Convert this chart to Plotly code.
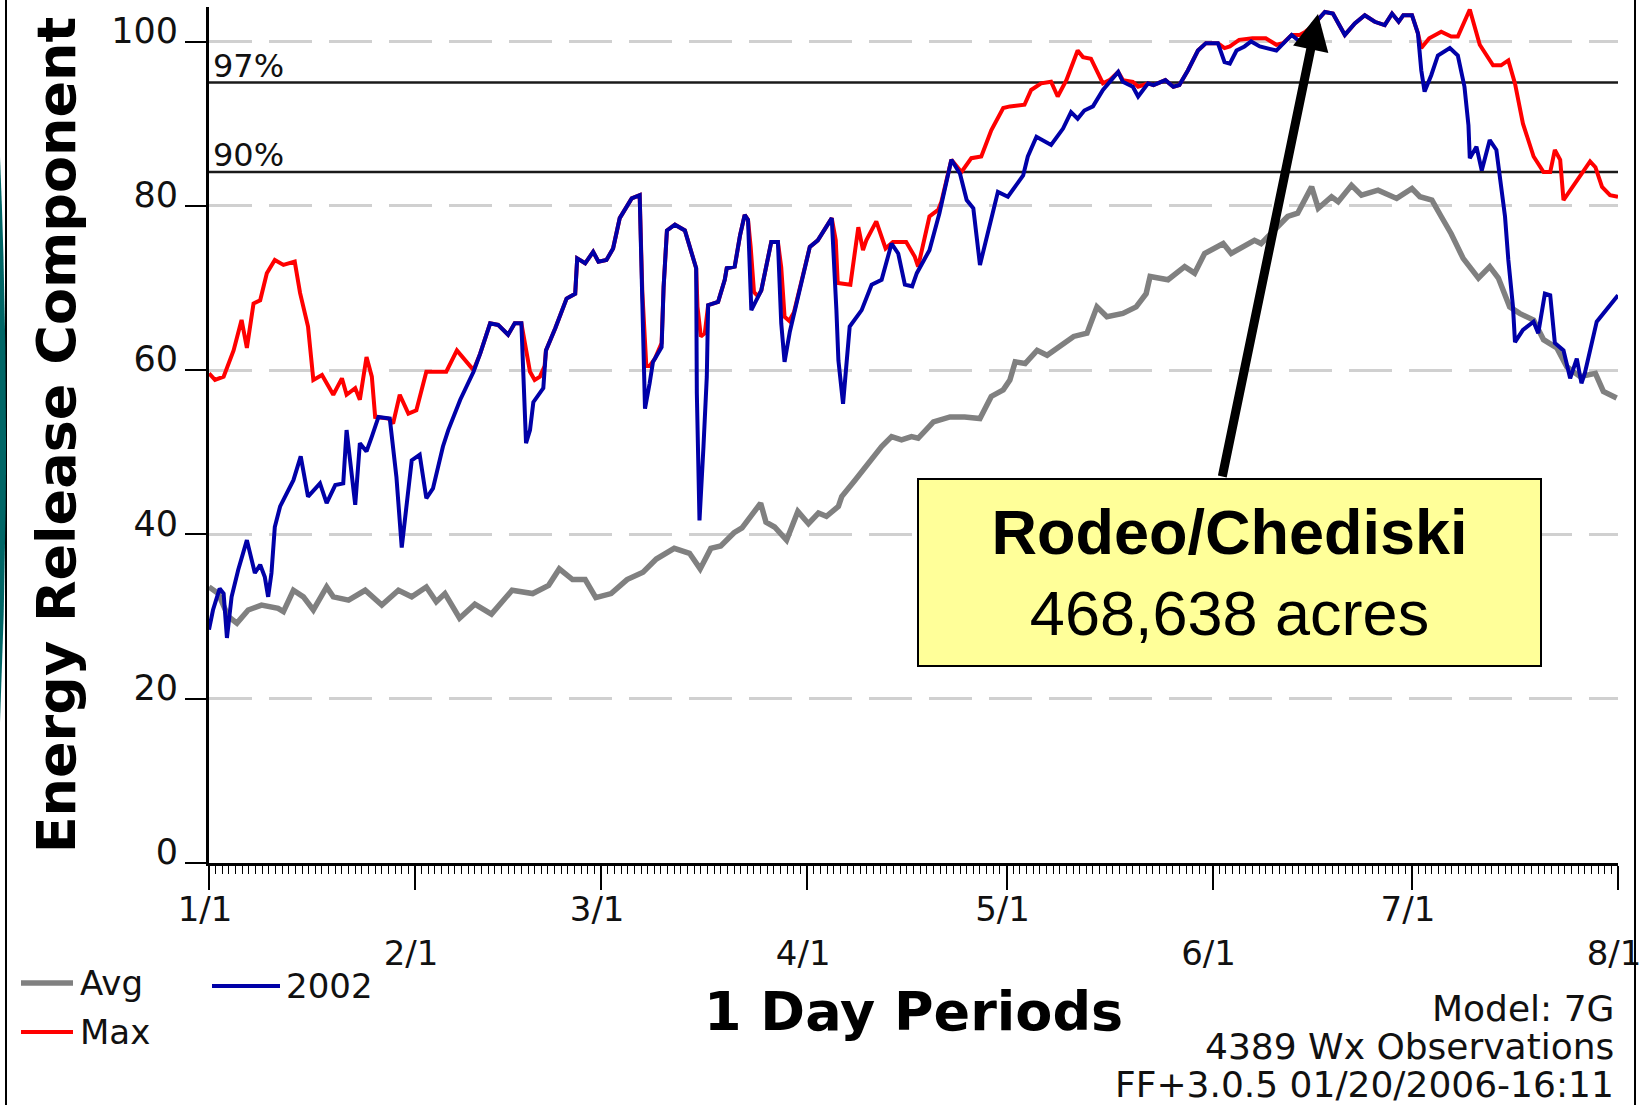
import plotly.graph_objects as go

W, H = 1639, 1105
L, R, T, B = 209, 21, 7, 242      # plot area: x 209..1618 px, y 7..863 px
PW, PH = W - L - R, H - T - B

# ---------------- data (day 0 = Jan 1, 2002) ----------------
avg_day = [0, 1.4, 2.9, 4.2, 5.9, 7.9, 10.4, 11.2, 12.7, 14.2, 15.7, 17.7, 18.7, 21, 23.5, 26, 28.5,
           30.5, 32.7, 34.2, 35.5, 37.7, 40, 42.5, 45.6, 48.7, 51.1, 52.7, 54.7, 56.6, 58.2, 60.5,
           62.9, 65.3, 67.3, 70, 72.3, 73.9, 75.5, 77, 79, 80.2, 83, 83.8, 85.1, 86.9, 88.6, 90.2,
           91.7, 92.9, 94.7, 95.2, 97.2, 99.2, 101.2, 102.7, 104.2, 105.7, 106.7, 109, 111.5, 113.7,
           116, 117.7, 119.5, 120.5, 121.3, 122.8, 124.6, 126.1, 128.1, 130.1, 132.1, 133.6, 135.1,
           137.5, 139.5, 141, 141.6, 144.3, 146.8, 148.3, 149.8, 152.6, 153.8, 155.8, 157.3, 158.3,
           160.3, 162.3, 163.8, 164.9, 165.9, 166.9, 168.9, 169.9, 171.9, 173.4, 175.9, 178.7, 181,
           182.2, 184, 185.4, 186.9, 188.7, 191, 192.7, 194, 195.7, 197.2, 199.3, 200.8, 202.8,
           204.3, 206.3, 208.6, 209.8, 211.8]
avg_val = [33.6, 32.8, 30.0, 29.2, 30.8, 31.4, 31.0, 30.6, 33.2, 32.4, 30.8, 33.6, 32.4, 32.0, 33.2, 31.4, 33.2,
           32.4, 33.6, 31.8, 32.8, 29.8, 31.5, 30.3, 33.2, 32.8, 33.8, 35.8, 34.5, 34.5, 32.3, 32.8,
           34.5, 35.4, 37.0, 38.3, 37.7, 35.8, 38.3, 38.6, 40.2, 40.8, 43.8, 41.5, 40.9, 39.3, 42.8, 41.3,
           42.6, 42.2, 43.4, 44.6, 46.6, 48.6, 50.7, 51.9, 51.5, 51.9, 51.7, 53.7, 54.3, 54.3,
           54.1, 56.8, 57.6, 58.8, 61.0, 60.8, 62.4, 61.8, 63.0, 64.1, 64.5, 67.7, 66.5,
           66.9, 67.7, 69.3, 71.4, 71.0, 72.6, 71.8, 74.2, 75.4, 74.2, 75.2, 75.8, 75.4,
           77.0, 78.7, 79.1, 80.7, 82.3, 79.7, 81.1, 80.5, 82.5, 81.3, 81.9, 80.9, 82.1,
           81.1, 80.7, 78.7, 76.6, 73.6, 71.2, 72.6, 71.2, 67.7, 66.9, 66.1, 63.7, 62.7,
           60.4, 59.2, 59.6, 57.4, 56.6]

y2002_day = [0, 0.6, 1.6, 2.2, 2.7, 3.4, 4.4, 5.7, 6.9, 7.7, 8.4, 8.9, 9.4, 9.9, 10.7, 12.7, 13.8, 14.9,
             16.7, 17.7, 19.0, 20.2, 20.7, 21.5, 22.0, 22.7, 23.7, 24.5, 25.5, 27.2, 28.2, 29.0, 30.5,
             31.7, 32.7, 33.7, 35.2, 36, 37.8, 39.8, 40.8, 42.3, 43.5, 45.0, 46.0, 47.0, 47.3, 47.7,
             48.3, 48.8, 50.3, 50.7, 52.1, 53.8, 55.1, 55.4, 56.6, 57.8, 58.6, 59.8, 60.8, 61.8, 63.6,
             64.8, 65.2, 65.6, 66.3, 66.8, 68.1, 68.4, 68.9, 70.1, 71.6, 72.7, 73.3, 73.4, 73.8, 74.4,
             74.9, 75.1, 76.6, 77.6, 77.9, 79.1, 79.9, 80.6, 81.1, 81.6, 83.1, 84.6, 85.6, 86.1, 86.6,
             87.4, 88.6, 90.4, 91.6, 93.7, 94.4, 94.7, 95.4, 96.4, 98.2, 99.7, 101.2, 102.7, 103.7,
             104.7, 105.8, 106.5, 108.4, 109.9, 111.7, 113, 114, 115, 116, 117, 118.7, 120.2, 122.5,
             123.2, 124.5, 126.7, 128.5, 129.7, 130.7, 131.7, 133, 134.5, 135.5, 136.8, 137.5, 139,
             139.8, 141.3, 142.1, 143.9, 145.1, 146, 147.3, 148.8, 150, 151.8, 152.8, 153.6, 154.6,
             155.8, 156.8, 158.1, 160.6, 161.6, 162.9, 164.1, 165.9, 167.9, 169.1, 170.9, 172.4, 173.9,
             175.4, 176.9, 178, 179, 179.7, 181, 181.9, 182.4, 182.9, 183.9, 184.9, 186.7, 187.9, 188.9,
             189.5, 189.7, 190.7, 191.5, 192.7, 193.7, 194.2, 195, 195.5, 196.2, 196.5, 197.7, 199.3,
             200, 201, 201.8, 202.5, 203.8, 204.8, 205.8, 206.5, 207, 208.8, 212]
y2002_val = [28.4, 30.8, 33.4, 32.8, 27.4, 32.4, 35.7, 39.3, 35.3, 36.3, 34.8, 32.4, 35.3, 40.9, 43.4, 46.6, 49.5, 44.6,
             46.2, 43.8, 46.0, 46.2, 52.7, 46.6, 43.6, 51.1, 50.1, 51.9, 54.3, 54.1, 47.0, 38.4, 49.0,
             49.7, 44.4, 45.6, 50.7, 52.7, 56.4, 59.8, 62.0, 65.7, 65.5, 64.3, 65.7, 65.7, 58.4, 51.1,
             52.7, 56.1, 57.8, 62.4, 65.1, 68.7, 69.3, 73.6, 73.0, 74.4, 73.2, 73.4, 74.8, 78.5, 80.9,
             81.3, 68.3, 55.3, 58.4, 61.0, 62.8, 70.1, 77.0, 77.7, 77.0, 73.8, 72.4, 57.2, 41.7, 50.7,
             59.2, 67.9, 68.3, 71.0, 72.4, 72.6, 76.4, 78.9, 78.3, 67.3, 69.7, 75.6, 75.6, 65.7, 61.0,
             64.7, 68.9, 75.0, 75.8, 78.5, 67.3, 61.2, 55.9, 65.3, 67.3, 70.4, 71.0, 75.4, 74.2,
             70.4, 70.2, 71.8, 74.6, 79.1, 85.6, 83.9, 80.7, 79.7, 72.8, 76.2, 81.7, 81.1, 83.7,
             86.0, 88.4, 87.4, 89.4, 91.4, 90.6, 91.6, 92.1, 94.1, 95.1, 96.3, 95.1, 94.5,
             93.3, 94.9, 94.7, 95.3, 94.5, 94.7, 96.5, 98.9, 99.8, 99.8, 97.5, 97.3, 98.9,
             99.4, 100.0, 99.4, 98.9, 99.8, 100.8, 100.0, 101.8, 103.6, 103.4, 100.8, 102.2, 103.2,
             102.4, 102.0, 103.4, 102.4, 103.2, 103.2, 101.0, 96.5, 93.9, 95.9, 98.3, 99.2, 98.3, 94.5,
             89.8, 85.8, 87.2, 84.3, 88.0, 86.8, 83.5, 78.7, 73.4, 67.7, 63.4, 64.9, 65.9,
             64.5, 69.3, 69.1, 63.3, 62.4, 59.0, 61.4, 58.4, 59.6, 65.9, 69.1]

max_day = [0, 0.9, 2.2, 3.7, 4.9, 5.7, 6.7, 7.7, 8.7, 9.9, 11.2, 12.9, 13.7, 14.9, 15.7, 17.0, 18.7, 20.0,
           20.7, 22.0, 22.7, 23.7, 24.5, 25.0, 27.0, 27.7, 28.7, 30.0, 31.2, 32.7, 35.7, 37.3, 39.8,
           40.8, 42.3, 43.5, 45.0, 46.0, 47.0, 47.7, 48.3, 49.0, 49.8, 50.5, 50.7, 52.1, 53.8, 55.1,
           55.4, 56.6, 57.8, 58.6, 59.8, 60.8, 61.8, 63.6, 64.8, 65.2, 65.8, 66.3, 67.1, 68.1, 68.4,
           68.9, 70.1, 71.6, 72.7, 73.3, 73.5, 74.0, 74.6, 75.1, 76.6, 77.6, 77.9, 79.1, 79.9, 80.6,
           81.1, 81.5, 82.0, 82.6, 83.1, 84.6, 85.6, 86.1, 86.6, 87.3, 88.0, 88.6, 90.4, 91.6, 93.7,
           94.3, 94.6, 96.5, 97.7, 98.4, 98.9, 100.4, 101.8, 102.9, 104.9, 106.2, 106.7, 108.4, 109.7,
           110.2, 111.7, 113.2, 114.7, 116.2, 117.7, 119.5, 120.5, 122.7, 123.7, 125.2, 126.7, 127.7,
           129.0, 130.7, 131.5, 132.7, 134.5, 135.5, 136.8, 137.5, 139, 139.8, 141.3, 142.1, 143.9,
           145.1, 146, 147.3, 148.8, 150, 151.8, 152.8, 153.6, 155, 157, 159, 160.6, 161.6, 162.9,
           164.1, 165, 165.9, 167.9, 169.1, 170.9, 172.4, 173.9, 175.4, 176.9, 178, 179, 179.7, 181,
           181.9, 182.4, 183.6, 185.4, 186.9, 187.9, 189.7, 191.2, 193.2, 194.4, 195.5, 196.5, 197.7,
           199.3, 200.8, 201.8, 202.5, 203.3, 203.8, 204.8, 206.3, 207.8, 208.6, 209.6, 210.8, 212]
max_val = [59.6, 58.8, 59.2, 62.4, 66.1, 62.7, 68.1, 68.5, 71.8, 73.4, 72.8, 73.2, 69.4, 65.3, 58.8, 59.4, 57.0, 59.0,
           57.0, 57.8, 56.4, 61.6, 59.2, 54.3, 54.1, 53.5, 57.0, 54.7, 55.1, 59.8, 59.8, 62.4, 60.0,
           62.0, 65.7, 65.5, 64.3, 65.7, 65.7, 62.8, 59.8, 58.8, 59.2, 60.5, 62.4, 65.1, 68.7, 69.3,
           73.6, 73.0, 74.4, 73.2, 73.4, 74.8, 78.5, 80.9, 81.3, 69.5, 60.5, 60.5, 61.4, 63.3, 70.1,
           77.0, 77.7, 77.0, 73.8, 72.4, 67.7, 64.1, 64.5, 67.9, 68.3, 71.0, 72.4, 72.6, 76.4, 78.9,
           78.3, 75.0, 69.5, 69.0, 69.7, 75.6, 75.6, 72.5, 66.5, 66.0, 67.0, 68.9, 75.0, 75.8, 78.5,
           75.8, 70.6, 70.4, 77.4, 74.6, 75.8, 78.1, 74.8, 75.6, 75.6, 73.8, 72.6, 78.7, 79.5,
           80.5, 85.6, 84.1, 85.8, 86.0, 89.2, 91.9, 92.1, 92.3, 94.1, 94.9, 95.1, 93.3,
           95.3, 98.9, 98.1, 97.9, 94.9, 95.3, 96.3, 95.3, 95.1, 94.5, 94.9, 94.7, 95.3,
           94.5, 94.7, 96.5, 98.9, 99.8, 99.8, 99.2, 99.4, 100.2, 100.4, 100.4, 99.6, 99.8, 100.8,
           100.8, 101.2, 101.8, 103.6, 103.4, 100.8, 102.2, 103.2, 102.4, 102.0, 103.4, 102.4, 103.2, 103.2,
           101.0, 99.2, 100.4, 101.2, 100.6, 100.6, 103.9, 99.6, 97.1, 97.1, 97.7, 94.9, 90.0,
           86.0, 84.1, 84.1, 86.8, 85.6, 80.7, 81.9, 83.5, 85.4, 84.7, 82.3, 81.3, 81.1]

month_ticks = [0, 31, 59, 90, 120, 151, 181, 212]
month_labels = ["1/1", "2/1", "3/1", "4/1", "5/1", "6/1", "7/1", "8/1"]
y_ticks = [0, 20, 40, 60, 80, 100]
pct_levels = [95.0, 84.1]
pct_labels = ["97%", "90%"]
footer_lines = ["Model: 7G", "4389 Wx Observations", "FF+3.0.5 01/20/2006-16:11"]

# --------------- helpers: pixel -> paper ---------------
def px(x):
    return (x - L) / PW

def py(y):
    return (H - B - y) / PH

FONT = "DejaVu Sans"
GRAY, RED, BLUE = "#808080", "#ff0000", "#0000a8"

fig = go.Figure()
fig.add_trace(go.Scatter(x=avg_day, y=avg_val, mode="lines", name="Avg",
                         line=dict(color=GRAY, width=5.5), showlegend=False))
fig.add_trace(go.Scatter(x=max_day, y=max_val, mode="lines", name="Max",
                         line=dict(color=RED, width=4), showlegend=False))
fig.add_trace(go.Scatter(x=y2002_day, y=y2002_val, mode="lines", name="2002",
                         line=dict(color=BLUE, width=4), showlegend=False))

ticktext = [lab if i % 2 == 0 else "<br>" + lab for i, lab in enumerate(month_labels)]

shapes = []
annotations = []

# percentile lines
for lev, lab in zip(pct_levels, pct_labels):
    shapes.append(dict(type="line", xref="paper", yref="y", x0=0, x1=1, y0=lev, y1=lev,
                       line=dict(color="#1a1a1a", width=2.5), layer="below"))
    annotations.append(dict(text=lab, xref="paper", yref="y", x=px(211), y=lev,
                            xanchor="left", yanchor="bottom", yshift=-4, showarrow=False,
                            font=dict(family=FONT, size=32, color="#111")))

# page frame
shapes.append(dict(type="line", xref="paper", yref="paper", x0=px(6), x1=px(6), y0=py(0), y1=py(H),
                   line=dict(color="black", width=2)))
shapes.append(dict(type="line", xref="paper", yref="paper", x0=px(1635), x1=px(1635), y0=py(0), y1=py(H),
                   line=dict(color="black", width=2)))
shapes.append(dict(type="path", xref="paper", yref="paper",
                   path=f"M {px(0)},{py(157)} Q {px(12)},{py(440)} {px(0)},{py(722)} Z",
                   fillcolor="#006666", line=dict(width=0)))

# manual legend
leg = [(21, 73, 983, GRAY, 5.5, "Avg", 78), (212, 280, 986, BLUE, 4, "2002", 284),
       (21, 73, 1032, RED, 4, "Max", 78)]
for x0, x1, yy, col, wdt, lab, tx in leg:
    shapes.append(dict(type="line", xref="paper", yref="paper", x0=px(x0), x1=px(x1),
                       y0=py(yy), y1=py(yy), line=dict(color=col, width=wdt)))
    annotations.append(dict(text=lab, xref="paper", yref="paper", x=px(tx), y=py(yy),
                            xanchor="left", yanchor="middle", showarrow=False,
                            font=dict(family=FONT, size=34, color="#111")))

# x-axis title (placed explicitly)
annotations.append(dict(text="<b>1 Day Periods</b>", xref="paper", yref="paper",
                        x=px(913), y=py(1011), xanchor="center", yanchor="middle",
                        showarrow=False, font=dict(family=FONT, size=54, color="black")))

# footer
for txt, yy in zip(footer_lines, [1008, 1046, 1084]):
    annotations.append(dict(text=txt, xref="paper", yref="paper", x=px(1616), y=py(yy),
                            xanchor="right", yanchor="middle", showarrow=False,
                            font=dict(family=FONT, size=36, color="#111")))

# arrow + callout box
annotations.append(dict(text="", xref="paper", yref="paper", x=px(1318), y=py(14),
                        ax=1222 - 1318, ay=478 - 14, showarrow=True, arrowhead=2,
                        arrowsize=0.8, arrowwidth=9, arrowcolor="black"))
annotations.append(dict(text="<b>Rodeo/Chediski</b><br>468,638 acres",
                        xref="paper", yref="paper", x=px(1229.5), y=py(572.5),
                        xanchor="center", yanchor="middle", showarrow=False,
                        width=621, height=185, bgcolor="#ffff99", bordercolor="black",
                        borderwidth=2, borderpad=0,
                        font=dict(family="Liberation Sans", size=63, color="black")))

fig.update_layout(
    width=W, height=H,
    margin=dict(l=L, r=R, t=T, b=B, autoexpand=False),
    paper_bgcolor="white", plot_bgcolor="white",
    showlegend=False,
    shapes=shapes, annotations=annotations,
    xaxis=dict(range=[0, 212], tickmode="array", tickvals=month_ticks, ticktext=ticktext,
               ticks="outside", ticklen=24, tickwidth=2, tickcolor="black",
               minor=dict(tickmode="linear", tick0=0, dtick=1, ticks="outside", ticklen=8,
                          tickwidth=1, tickcolor="black", showgrid=False),
               showline=True, linecolor="black", linewidth=3, showgrid=False, zeroline=False,
               tickfont=dict(family=FONT, size=34, color="#111"), automargin=False,
               ticklabeloverflow="allow", ticklabelstandoff=-10, ticklabelshift=-4),
    yaxis=dict(range=[0, 104.2], tickmode="array", tickvals=y_ticks,
               ticks="outside", ticklen=21, tickwidth=2, tickcolor="black",
               showline=True, linecolor="black", linewidth=3, zeroline=False,
               showgrid=True, gridcolor="#d0d0d0", gridwidth=2.5, griddash="43px,17px",
               tickfont=dict(family=FONT, size=35, color="#111"), automargin=False,
               ticklabelshift=-11,
               title=dict(text="<b>Energy Release Component</b>", standoff=19,
                          font=dict(family=FONT, size=54, color="black"))),
)

fig.write_html("out.html", config={"displayModeBar": False},
               post_script="document.body.style.margin='0';")
